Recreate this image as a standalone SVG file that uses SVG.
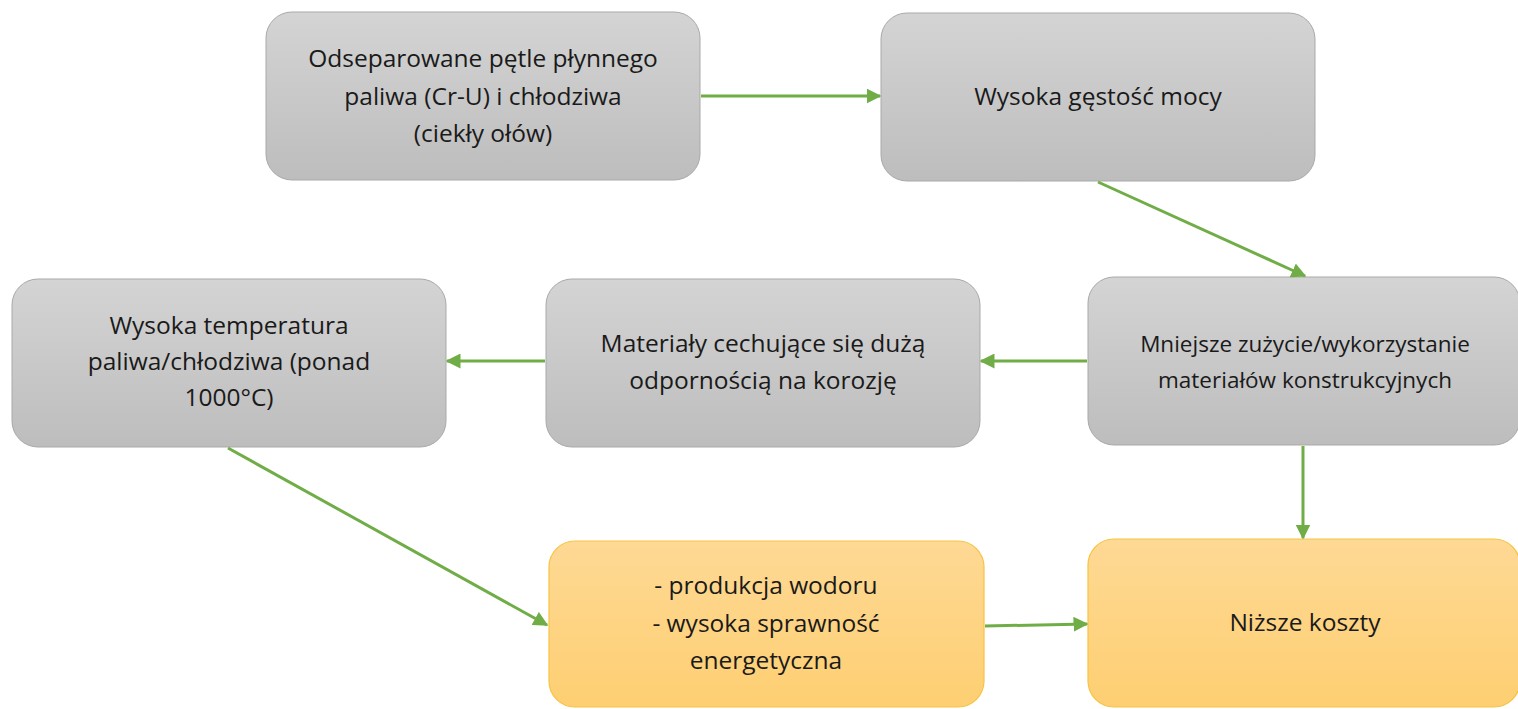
<svg xmlns="http://www.w3.org/2000/svg" width="1518" height="709" viewBox="0 0 1518 709">
<defs>
<linearGradient id="gGray" x1="0" y1="0" x2="0" y2="1">
<stop offset="0" stop-color="#d4d4d4"/>
<stop offset="1" stop-color="#bdbdbd"/>
</linearGradient>
<linearGradient id="gOrange" x1="0" y1="0" x2="0" y2="1">
<stop offset="0" stop-color="#fed995"/>
<stop offset="1" stop-color="#fecf72"/>
</linearGradient>
<marker id="ah" viewBox="0 0 10 10" refX="9" refY="5" markerWidth="5" markerHeight="5" orient="auto" markerUnits="strokeWidth">
<path d="M0,0 L10,5 L0,10 Z" fill="#70ad47"/>
</marker>
<style>
.gray{fill:url(#gGray);stroke:#a9a9a9;stroke-width:1}
.orange{fill:url(#gOrange);stroke:#f7c341;stroke-width:1.2}
text{font-family:"Open Sans","Noto Sans",sans-serif;font-size:24.5px;fill:#1a1a1a;text-anchor:middle}
.sm{font-size:22.5px}
.conn{stroke:#70ad47;stroke-width:3;fill:none;marker-end:url(#ah)}
</style>
</defs>
<rect width="1518" height="709" fill="#ffffff"/>
<g id="n1">
<rect class="gray" x="266" y="12" width="434" height="168" rx="26"/>
<text x="483" y="67">Odseparowane pętle płynnego</text>
<text x="483" y="105">paliwa (Cr-U) i chłodziwa</text>
<text x="483" y="142">(ciekły ołów)</text>
</g>
<g id="n2">
<rect class="gray" x="881" y="13" width="434" height="168" rx="26"/>
<text x="1098" y="105">Wysoka gęstość mocy</text>
</g>
<g id="n3">
<rect class="gray" x="12" y="279" width="434" height="168" rx="26"/>
<text x="229" y="334">Wysoka temperatura</text>
<text x="229" y="370">paliwa/chłodziwa (ponad</text>
<text x="229" y="406">1000°C)</text>
</g>
<g id="n4">
<rect class="gray" x="546" y="279" width="434" height="168" rx="26"/>
<text x="763" y="352">Materiały cechujące się dużą</text>
<text x="763" y="389">odpornością na korozję</text>
</g>
<g id="n5">
<rect class="gray" x="1088" y="277" width="432" height="168" rx="26"/>
<text class="sm" x="1305" y="352">Mniejsze zużycie/wykorzystanie</text>
<text class="sm" x="1305" y="388">materiałów konstrukcyjnych</text>
</g>
<g id="n6">
<rect class="orange" x="549" y="541" width="435" height="166" rx="26"/>
<text x="766" y="594">- produkcja wodoru</text>
<text x="766" y="632">- wysoka sprawność</text>
<text x="766" y="669">energetyczna</text>
</g>
<g id="n7">
<rect class="orange" x="1088" y="539" width="432" height="168" rx="26"/>
<text x="1305" y="631">Niższe koszty</text>
</g>
<g id="connectors">
<line class="conn" x1="701" y1="96" x2="880" y2="96"/>
<line class="conn" x1="1098" y1="182" x2="1305" y2="276"/>
<line class="conn" x1="1087" y1="361" x2="981" y2="361"/>
<line class="conn" x1="545" y1="361" x2="447" y2="361"/>
<line class="conn" x1="228" y1="448" x2="547" y2="625"/>
<line class="conn" x1="1303" y1="446" x2="1303" y2="538"/>
<line class="conn" x1="985" y1="626" x2="1087" y2="624"/>
</g>
</svg>
